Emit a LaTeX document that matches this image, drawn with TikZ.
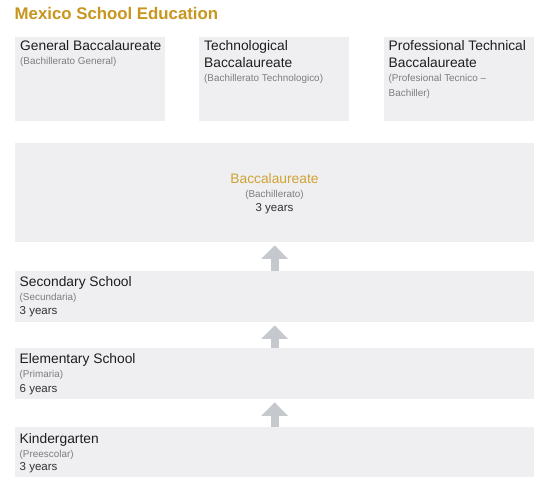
\documentclass[tikz,border=0pt]{standalone}
\usepackage{fontspec}
\setmainfont{Liberation Sans}
\usetikzlibrary{arrows.meta}
\definecolor{titlegold}{RGB}{200,150,30}
\definecolor{bacgold}{RGB}{208,162,52}
\definecolor{boxfill}{RGB}{239,239,241}
\definecolor{arrowc}{RGB}{197,201,205}
\definecolor{maintext}{RGB}{30,30,30}
\definecolor{subtext}{RGB}{125,125,130}
\definecolor{yeartext}{RGB}{50,50,52}
\begin{document}
\begin{tikzpicture}[x=1pt,y=-1pt,
  box/.style={fill=boxfill, draw=none, inner sep=0pt, anchor=north west},
  smallbox/.style={box, minimum width=150pt, minimum height=84pt},
  widebox/.style={box, minimum width=519pt},
  txt/.style={inner sep=0pt, anchor=base west},
  maintxt/.style={txt, font=\fontsize{13.8}{16}\selectfont, text=maintext},
  subtxt/.style={txt, font=\fontsize{9.9}{12}\selectfont, text=subtext},
  yeartxt/.style={txt, font=\fontsize{11.5}{14}\selectfont, text=yeartext},
  uparrow/.style={draw=arrowc, line width=8pt, line cap=butt, shorten >=3pt,
    -{Triangle[width=26pt,length=13.5pt]}, arrowc}
]
\useasboundingbox (0,0) rectangle (550,492);
\fill[white] (0,0) rectangle (550,492);

% title
\node[txt, font=\fontsize{16.8}{20}\selectfont\bfseries, text=titlegold] (title) at (14.5,19.5) {Mexico School Education};

% top boxes
\node[smallbox] (gen) at (15,37) {};
\node[smallbox] (tech) at (199,37) {};
\node[smallbox] (prof) at (383.5,37) {};

\node[maintxt] (gen1) at (20,51) {General Baccalaureate};
\node[subtxt] (gen2) at (20,65) {(Bachillerato General)};

\node[maintxt] (tech1) at (204,51) {Technological};
\node[maintxt] (tech2) at (204,67.5) {Baccalaureate};
\node[subtxt] (tech3) at (204,82) {(Bachillerato Technologico)};

\node[maintxt] (prof1) at (388.5,51) {Professional Technical};
\node[maintxt] (prof2) at (388.5,67.5) {Baccalaureate};
\node[subtxt] (prof3) at (388.5,82) {(Profesional Tecnico –};
\node[subtxt] (prof4) at (388.5,97) {Bachiller)};

% baccalaureate
\node[widebox, minimum height=99pt] (bac) at (15,143) {};
\node[inner sep=0pt, anchor=base, font=\fontsize{13.8}{16}\selectfont, text=bacgold] (bac1) at (274.5,183.5) {Baccalaureate};
\node[inner sep=0pt, anchor=base, font=\fontsize{9.9}{12}\selectfont, text=subtext] (bac2) at (274.5,197.5) {(Bachillerato)};
\node[inner sep=0pt, anchor=base, font=\fontsize{11.5}{14}\selectfont, text=yeartext] (bac3) at (274.5,211.5) {3 years};

% secondary
\node[widebox, minimum height=51pt] (sec) at (15,271) {};
\node[maintxt] (sec1) at (19.5,286.5) {Secondary School};
\node[subtxt] (sec2) at (19.5,300.5) {(Secundaria)};
\node[yeartxt] (sec3) at (19.5,314.5) {3 years};

% elementary
\node[widebox, minimum height=51pt] (elem) at (15,348) {};
\node[maintxt] (elem1) at (19.5,364) {Elementary School};
\node[subtxt] (elem2) at (19.5,378) {(Primaria)};
\node[yeartxt] (elem3) at (19.5,392) {6 years};

% kindergarten
\node[widebox, minimum height=50pt] (kg) at (15,427) {};
\node[maintxt] (kg1) at (19.5,443) {Kindergarten};
\node[subtxt] (kg2) at (19.5,457) {(Preescolar)};
\node[yeartxt] (kg3) at (19.5,471) {3 years};

% arrows
\draw[uparrow] (sec.north) -- (bac.south);
\draw[uparrow] (elem.north) -- (sec.south);
\draw[uparrow] (kg.north) -- (elem.south);
\end{tikzpicture}
\end{document}
